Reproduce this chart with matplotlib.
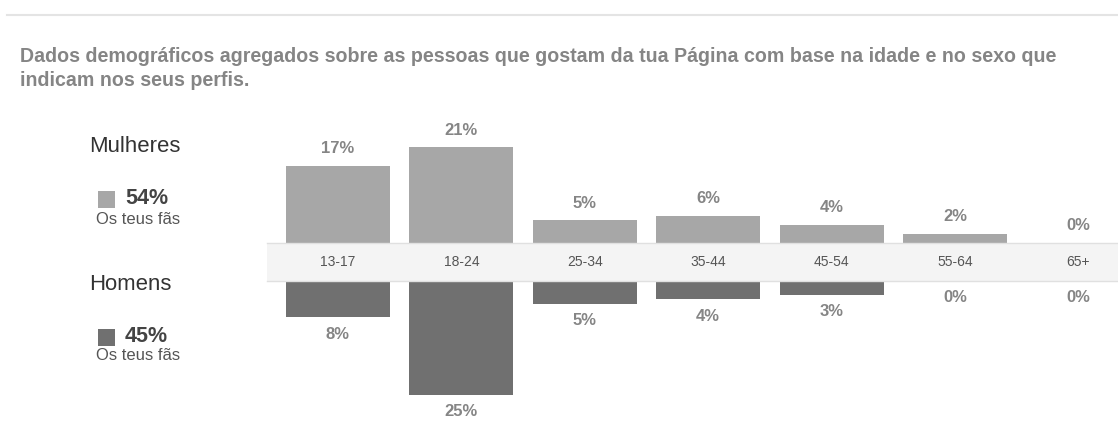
import matplotlib
matplotlib.use("Agg")
import matplotlib.pyplot as plt
from matplotlib.patches import Rectangle
from matplotlib.lines import Line2D

# ---- data ----
age_groups = ["13-17", "18-24", "25-34", "35-44", "45-54", "55-64", "65+"]
women_pct = [17, 21, 5, 6, 4, 2, 0]
men_pct = [8, 25, 5, 4, 3, 0, 0]
women_total = "54%"
men_total = "45%"
women_label = "Mulheres"
men_label = "Homens"
fans_label = "Os teus fãs"
title_lines = ["Dados demográficos agregados sobre as pessoas que gostam da tua Página com base na idade e no sexo que",
               "indicam nos seus perfis."]

W, H = 1118, 426
fig = plt.figure(figsize=(W / 100, H / 100), dpi=100)
fig.patch.set_facecolor("white")

FONT = ["Liberation Sans", "DejaVu Sans"]
light = "#a7a7a7"
dark = "#707070"
label_col = "#858585"

def fx(px):
    return px / W

def fy(py):
    return 1 - py / H

# top separator line
fig.add_artist(Line2D([fx(7), fx(1118)], [fy(15), fy(15)], color="#e4e4e4", lw=1.5))

# title
for yy, line in zip((57, 81), title_lines):
    fig.text(fx(20), fy(yy), line, ha="left", va="center", fontsize=14.1,
             fontweight="bold", color="#858585", family=FONT)

# geometry
px_per_pct = 4.55
band_top, band_bot = 243, 281
x_left_px, x_right_px = 267, 1118
c0, step = 338, 123.4
xlim = ((x_left_px - c0) / step, (x_right_px - c0) / step)
bar_w = 104 / step

top_px = 105
ax_top = fig.add_axes([fx(x_left_px), fy(band_top), fx(x_right_px - x_left_px), (band_top - top_px) / H])
ax_bot = fig.add_axes([fx(x_left_px), 0, fx(x_right_px - x_left_px), (H - band_bot) / H])

xs = list(range(len(age_groups)))
ax_top.bar(xs, women_pct, width=bar_w, color=light, edgecolor="none")
ax_bot.bar(xs, men_pct, width=bar_w, color=dark, edgecolor="none")
ax_top.set_xlim(*xlim)
ax_bot.set_xlim(*xlim)
ax_top.set_ylim(0, (band_top - top_px) / px_per_pct)
ax_bot.set_ylim((H - band_bot) / px_per_pct, 0)

off = 17 / px_per_pct
for x, v in zip(xs, women_pct):
    ax_top.text(x, v + off, f"{v}%", ha="center", va="center", fontsize=12,
                fontweight="bold", color=label_col, family=FONT)
for x, v in zip(xs, men_pct):
    ax_bot.text(x, v + off, f"{v}%", ha="center", va="center", fontsize=12,
                fontweight="bold", color=label_col, family=FONT)

for ax in (ax_top, ax_bot):
    ax.axis("off")
    ax.patch.set_visible(False)

# band with age labels
fig.add_artist(Rectangle((fx(x_left_px), fy(band_bot)), fx(x_right_px - x_left_px), (band_bot - band_top) / H,
                         transform=fig.transFigure, facecolor="#f4f4f4", edgecolor="none", zorder=5))
for yy in (band_top, band_bot):
    fig.add_artist(Line2D([fx(x_left_px), 1], [fy(yy), fy(yy)], color="#e0e0e0", lw=1, zorder=6))
band_mid = (band_top + band_bot) / 2
for x, lab in zip(xs, age_groups):
    xp = c0 + step * x
    fig.text(fx(xp), fy(band_mid), lab, ha="center", va="center", fontsize=10,
             color="#555555", family=FONT, zorder=7)

# left legend
def legend_block(y_title, y_val, y_sub, name, total, col):
    fig.text(fx(89), fy(y_title), name, ha="left", va="center", fontsize=15.9,
             color="#333333", family=FONT)
    fig.add_artist(Rectangle((fx(98), fy(y_val + 8.5)), fx(17), 17 / H, transform=fig.transFigure,
                             facecolor=col, edgecolor="none"))
    fig.text(fx(125), fy(y_val), total, ha="left", va="center", fontsize=15.5,
             fontweight="bold", color="#444444", family=FONT)
    fig.text(fx(96), fy(y_sub), fans_label, ha="left", va="center", fontsize=12,
             color="#555555", family=FONT)

legend_block(147, 199, 219, women_label, women_total, light)
legend_block(285, 337, 356, men_label, men_total, dark)

fig.savefig("out.png", dpi=100, facecolor="white")
